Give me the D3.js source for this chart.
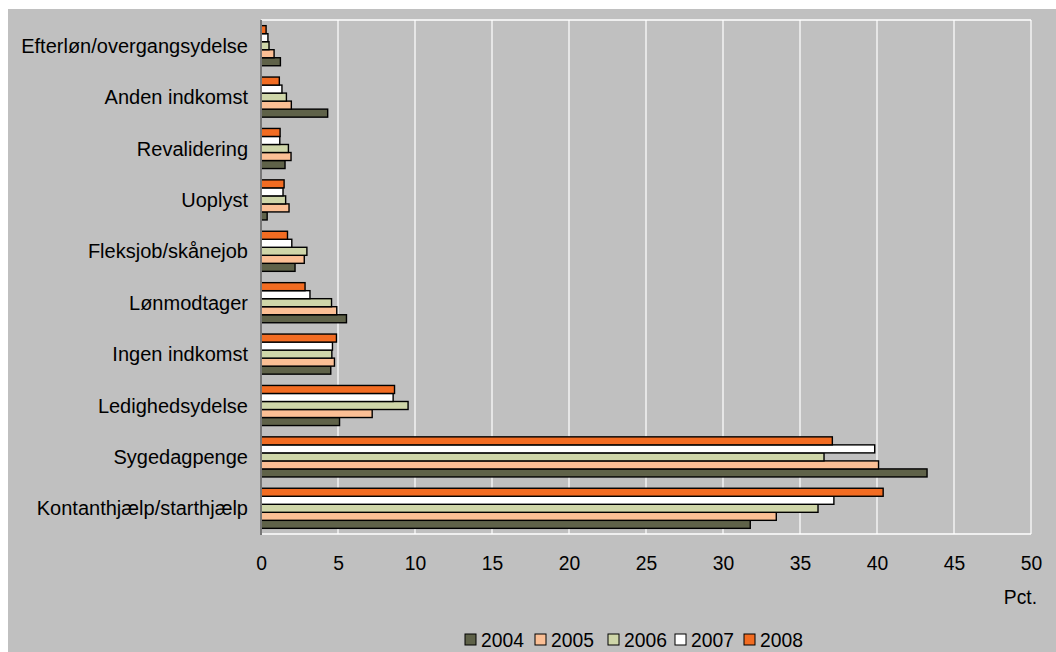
<!DOCTYPE html>
<html><head><meta charset="utf-8">
<script src="https://cdn.jsdelivr.net/npm/d3@7"></script>
<style>body{margin:0;background:#fff}svg{display:block}text{font-family:"Liberation Sans",Arial,sans-serif;fill:#000}</style>
</head><body><svg id="c" width="1056" height="652"></svg>
<script>
const categories = ["Efterløn/overgangsydelse","Anden indkomst","Revalidering","Uoplyst","Fleksjob/skånejob","Lønmodtager","Ingen indkomst","Ledighedsydelse","Sygedagpenge","Kontanthjælp/starthjælp"];
const years = ["2004","2005","2006","2007","2008"];
const v2004 = [1.26,4.33,1.56,0.4,2.21,5.55,4.53,5.1,43.25,31.77];
const v2005 = [0.85,1.97,1.95,1.82,2.81,4.92,4.77,7.22,40.1,33.46];
const v2006 = [0.52,1.65,1.78,1.6,2.98,4.58,4.6,9.55,36.56,36.17];
const v2007 = [0.45,1.36,1.22,1.43,2.0,3.18,4.64,8.58,39.85,37.2];
const v2008 = [0.33,1.19,1.24,1.5,1.72,2.86,4.9,8.67,37.1,40.4];
const colors = ["#5f6249","#fbbf95","#cfd6a9","#ffffff","#f26c22"];
const xTicks = [0,5,10,15,20,25,30,35,40,45,50];
const unitLabel = "Pct.";

const FS = 19.3;
const series = [v2004,v2005,v2006,v2007,v2008];
const svg = d3.select("#c");
svg.append("rect").attr("x",8).attr("y",9).attr("width",1048).attr("height",643).attr("fill","#c0c0c0");

const L=261,R=1031,T=20,B=534;
const x = d3.scaleLinear().domain([0,50]).range([L,R]);
const y = d3.scaleBand().domain(categories).range([T,B]).paddingInner(0.22).paddingOuter(0.11);
const inner = d3.scaleBand().domain(years.slice().reverse()).range([0,y.bandwidth()]).padding(0);

// gridlines
svg.append("g").selectAll("line").data(xTicks.slice(1)).join("line")
  .attr("x1",d=>x(d)).attr("x2",d=>x(d)).attr("y1",T).attr("y2",B)
  .attr("stroke","#fff").attr("stroke-width",1.2);
svg.append("line").attr("x1",L).attr("x2",R).attr("y1",T).attr("y2",T).attr("stroke","#fff").attr("stroke-width",1.5);
svg.append("line").attr("x1",L).attr("x2",R).attr("y1",B).attr("y2",B).attr("stroke","#fff").attr("stroke-width",1.5);

// bars
years.forEach((yr,i)=>{
  svg.append("g").selectAll("rect").data(categories).join("rect")
    .attr("x",x(0)).attr("y",c=>y(c)+inner(yr))
    .attr("width",(c,j)=>x(series[i][j])-x(0)).attr("height",inner.bandwidth())
    .attr("fill",colors[i]).attr("stroke","#000").attr("stroke-width",1.4);
});

// left axis line
svg.append("line").attr("x1",L).attr("x2",L).attr("y1",T).attr("y2",B+1).attr("stroke","#777").attr("stroke-width",2);

// category labels
svg.append("g").selectAll("text").data(categories).join("text")
  .attr("x",248).attr("y",c=>y(c)+y.bandwidth()/2).attr("dy","0.35em")
  .attr("text-anchor","end").attr("font-size",20).text(d=>d);

// x tick labels
const xAxis = d3.axisBottom(x).tickValues(xTicks).tickSize(0).tickPadding(0);
const ag = svg.append("g").attr("transform",`translate(0,${B})`).call(xAxis);
ag.select(".domain").remove();
ag.selectAll("text").attr("font-size",FS).attr("font-family","Liberation Sans, Arial, sans-serif").attr("fill","#000").attr("y",29).attr("dy","0.35em");

svg.append("text").attr("x",1037).attr("y",604).attr("text-anchor","end").attr("font-size",FS).text(unitLabel);

// legend
const lx=[465,535,608,675,744];
const lg = svg.append("g");
years.forEach((yr,i)=>{
  lg.append("rect").attr("x",lx[i]).attr("y",634).attr("width",11).attr("height",11)
    .attr("fill",colors[i]).attr("stroke","#000").attr("stroke-width",1);
  lg.append("text").attr("x",lx[i]+16).attr("y",647).attr("font-size",FS).text(yr);
});
</script></body></html>
